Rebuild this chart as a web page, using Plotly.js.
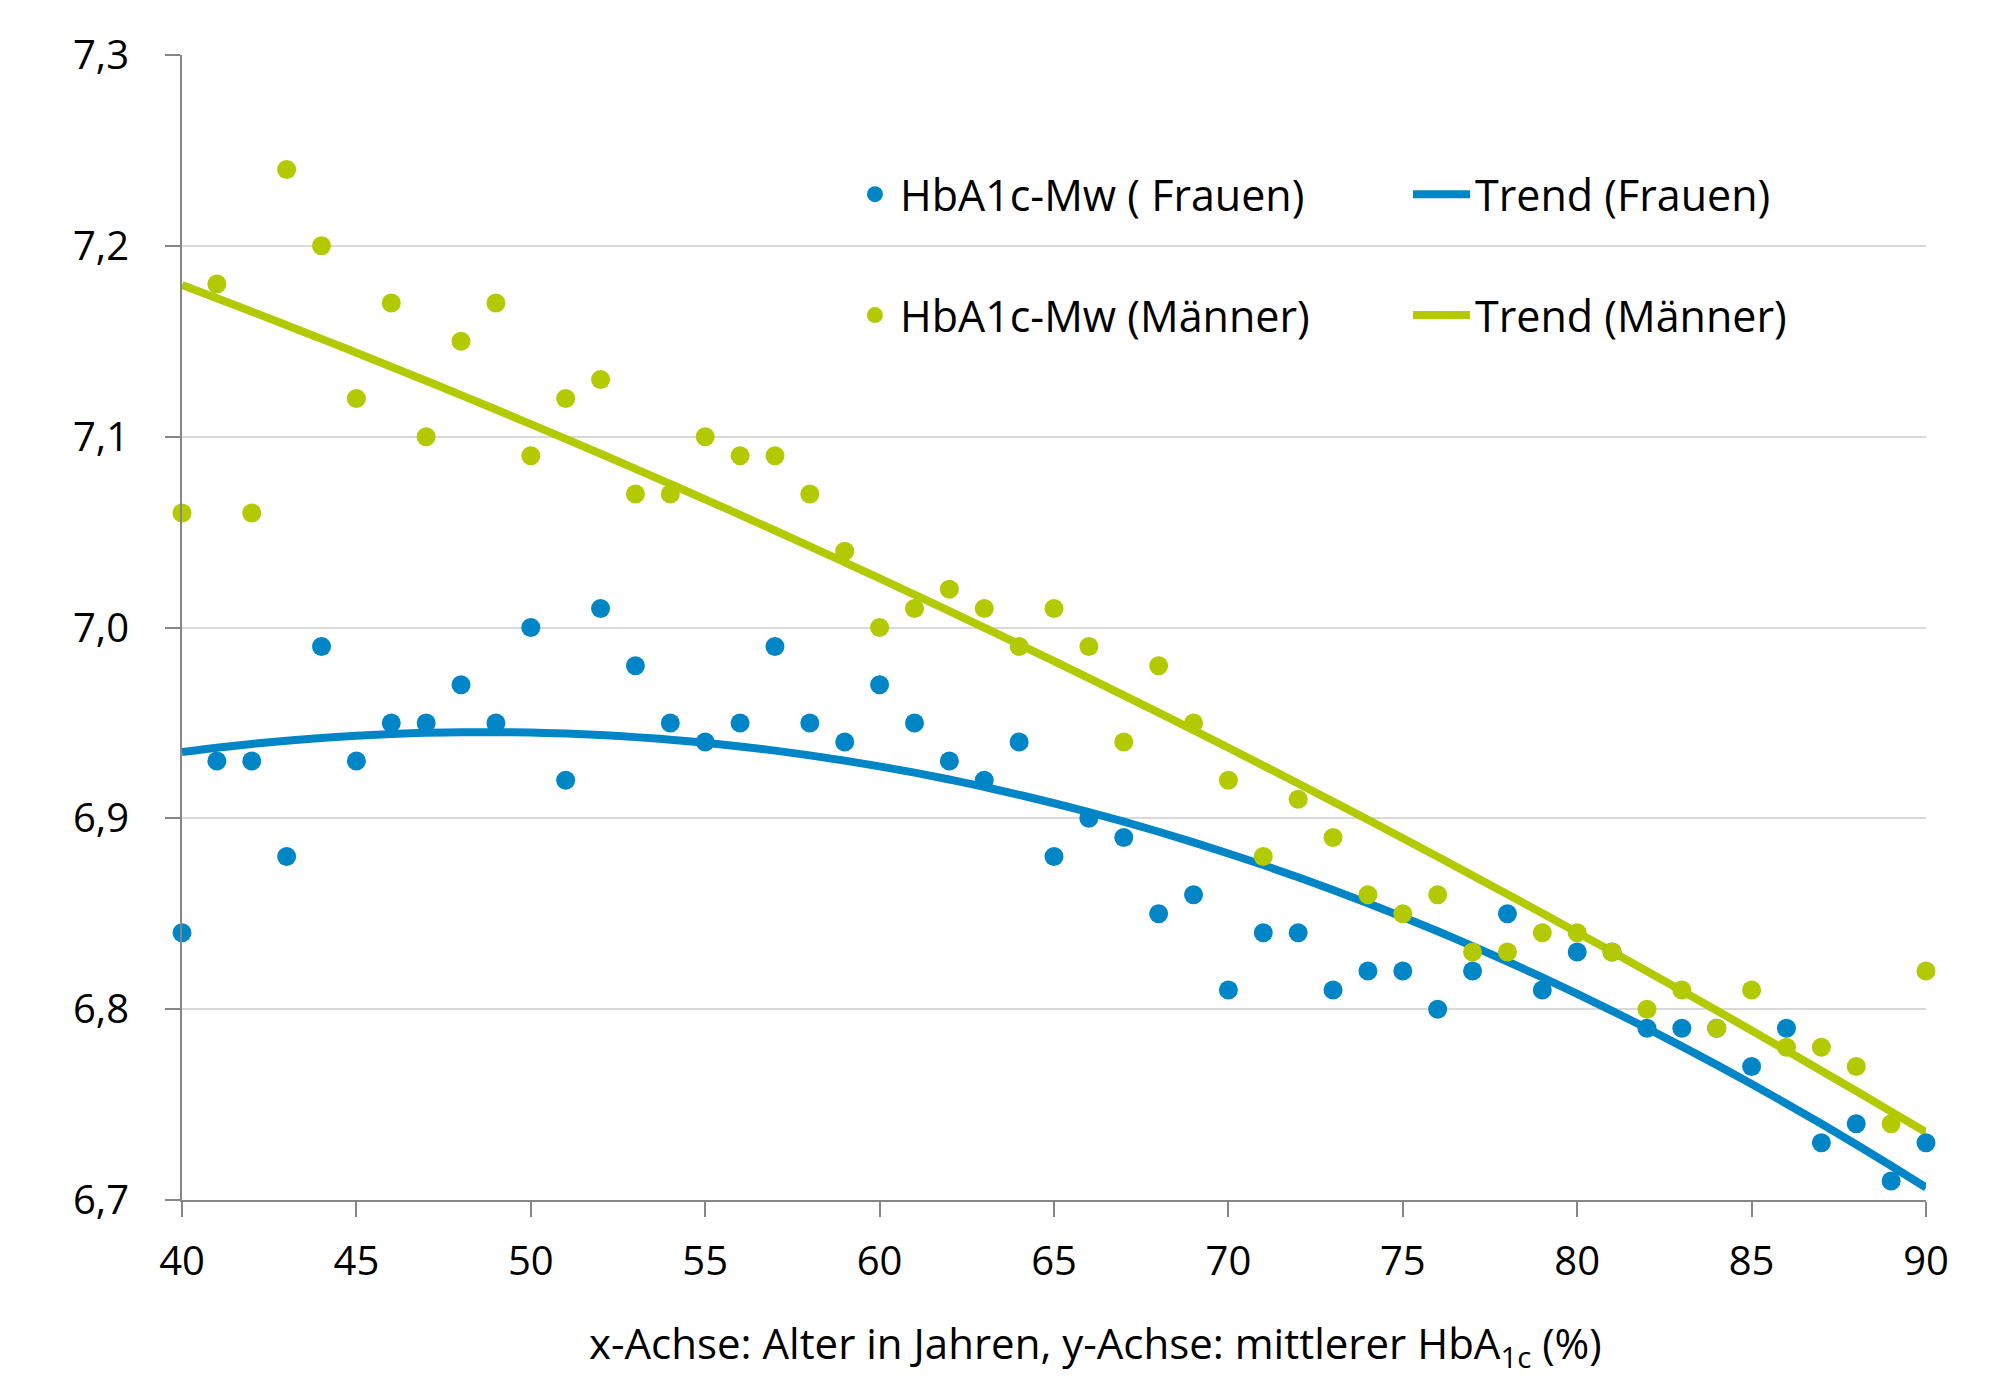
<!DOCTYPE html>
<html>
<head>
<meta charset="utf-8">
<script src="https://cdn.plot.ly/plotly-3.0.1.min.js"></script>
<style>html,body{margin:0;padding:0;background:#fff;}#chart{width:2000px;height:1376px;}</style>
</head>
<body>
<div id="chart"></div>
<script>
// Age in years (x axis)
const ages = [40,41,42,43,44,45,46,47,48,49,50,51,52,53,54,55,56,57,58,59,60,61,62,63,64,65,66,67,68,69,70,71,72,73,74,75,76,77,78,79,80,81,82,83,84,85,86,87,88,89,90];
// Mean HbA1c (%) women
const hba1cFrauen = [6.84,6.93,6.93,6.88,6.99,6.93,6.95,6.95,6.97,6.95,7.00,6.92,7.01,6.98,6.95,6.94,6.95,6.99,6.95,6.94,6.97,6.95,6.93,6.92,6.94,6.88,6.90,6.89,6.85,6.86,6.81,6.84,6.84,6.81,6.82,6.82,6.80,6.82,6.85,6.81,6.83,6.83,6.79,6.79,6.79,6.77,6.79,6.73,6.74,6.71,6.73];
// Mean HbA1c (%) men
const hba1cMaenner = [7.06,7.18,7.06,7.24,7.20,7.12,7.17,7.10,7.15,7.17,7.09,7.12,7.13,7.07,7.07,7.10,7.09,7.09,7.07,7.04,7.00,7.01,7.02,7.01,6.99,7.01,6.99,6.94,6.98,6.95,6.92,6.88,6.91,6.89,6.86,6.85,6.86,6.83,6.83,6.84,6.84,6.83,6.80,6.81,6.79,6.81,6.78,6.78,6.77,6.74,6.82];

const seriesNames = ["HbA1c-Mw ( Frauen)", "HbA1c-Mw (Männer)"];
const trendNames = ["Trend (Frauen)", "Trend (Männer)"];
const xTitle = "x-Achse: Alter in Jahren, y-Achse: mittlerer HbA<sub>1c</sub> (%)";

const blue = "#0086C6";
const green = "#B3C901";

// Polynomial (order 2) least-squares trend, computed from the data
function polyFit2(xs, ys) {
  let s = [0,0,0,0,0], t = [0,0,0];
  for (let i = 0; i < xs.length; i++) {
    const x = xs[i], y = ys[i];
    let p = 1;
    for (let k = 0; k < 5; k++) { s[k] += p; if (k < 3) t[k] += p * y; p *= x; }
  }
  const A = [[s[0],s[1],s[2],t[0]],[s[1],s[2],s[3],t[1]],[s[2],s[3],s[4],t[2]]];
  for (let c = 0; c < 3; c++) {
    let piv = c;
    for (let r = c+1; r < 3; r++) if (Math.abs(A[r][c]) > Math.abs(A[piv][c])) piv = r;
    [A[c], A[piv]] = [A[piv], A[c]];
    for (let r = 0; r < 3; r++) {
      if (r === c) continue;
      const f = A[r][c] / A[c][c];
      for (let k = c; k < 4; k++) A[r][k] -= f * A[c][k];
    }
  }
  const coef = [A[0][3]/A[0][0], A[1][3]/A[1][1], A[2][3]/A[2][2]];
  return xs.map(x => coef[0] + coef[1]*x + coef[2]*x*x);
}

const trendFrauen = polyFit2(ages, hba1cFrauen);
const trendMaenner = polyFit2(ages, hba1cMaenner);

const FONT = "Open Sans, sans-serif";
const legendFont = {family: FONT, size: 43, color: "#000"};

const traces = [
  {x: ages, y: trendFrauen, type: "scatter", mode: "lines", name: trendNames[0],
   line: {color: blue, width: 8, shape: "spline"}, legend: "legend2", legendgroup: "tf", hoverinfo: "skip"},
  {x: ages, y: trendMaenner, type: "scatter", mode: "lines", name: trendNames[1],
   line: {color: green, width: 8, shape: "spline"}, legend: "legend2", legendgroup: "tm", hoverinfo: "skip"},
  {x: ages, y: hba1cFrauen, type: "scatter", mode: "markers", name: seriesNames[0],
   marker: {color: blue, size: 19}, cliponaxis: false, legend: "legend", legendgroup: "f"},
  {x: ages, y: hba1cMaenner, type: "scatter", mode: "markers", name: seriesNames[1],
   marker: {color: green, size: 19}, cliponaxis: false, legend: "legend", legendgroup: "m"}
];

const layout = {
  width: 2000, height: 1376,
  margin: {l: 182, r: 74, t: 55, b: 176},
  paper_bgcolor: "#fff", plot_bgcolor: "#fff",
  separators: ", ",
  font: {family: FONT, size: 40, color: "#000"},
  showlegend: true,
  xaxis: {
    range: [40, 90], dtick: 5, tick0: 40, showgrid: false, zeroline: false,
    showline: true, linecolor: "#868686", linewidth: 2,
    ticks: "outside", ticklen: 15, tickwidth: 2, tickcolor: "#868686",
    tickfont: {family: FONT, size: 40, color: "#000"},
    ticklabelstandoff: 10
  },
  yaxis: {
    range: [6.7, 7.3], dtick: 0.1, tick0: 6.7, tickformat: ".1f",
    showgrid: true, gridcolor: "#D9D9D9", gridwidth: 2, zeroline: false,
    showline: true, linecolor: "#868686", linewidth: 2,
    ticks: "outside", ticklen: 15, tickwidth: 2, tickcolor: "#868686",
    tickfont: {family: FONT, size: 40, color: "#000"},
    ticklabelstandoff: 28
  },
  legend: {
    x: 0.383, xanchor: "left", y: 0.9085, yanchor: "top", itemwidth: 40,
    bgcolor: "rgba(0,0,0,0)", font: legendFont, tracegroupgap: 62, traceorder: "grouped"
  },
  legend2: {
    x: 0.703, xanchor: "left", y: 0.9085, yanchor: "top", itemwidth: 57,
    bgcolor: "rgba(0,0,0,0)", font: legendFont, tracegroupgap: 62, traceorder: "grouped"
  },
  annotations: [{
    text: xTitle, xref: "paper", yref: "paper", x: 0.524, y: -0.1275,
    xanchor: "center", yanchor: "middle", showarrow: false,
    font: {family: FONT, size: 42, color: "#000"}
  }]
};

Plotly.newPlot("chart", traces, layout, {displayModeBar: false, staticPlot: true});
</script>
</body>
</html>
